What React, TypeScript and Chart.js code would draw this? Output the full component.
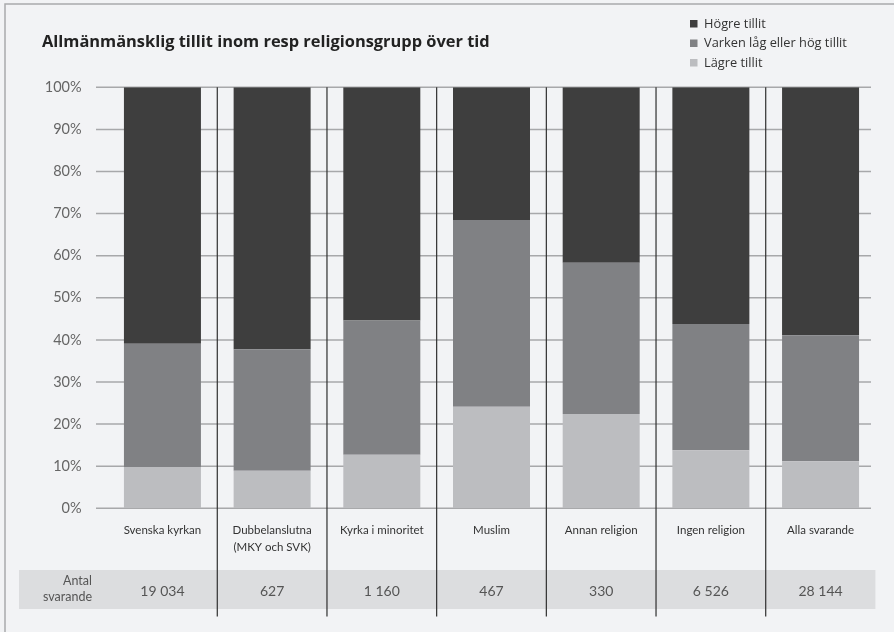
import React, { useEffect, useRef } from "react";
import { Chart, registerables } from "chart.js";

Chart.register(...registerables);

const categories: (string | string[])[] = [
  "Svenska kyrkan",
  ["Dubbelanslutna", "(MKY och SVK)"],
  "Kyrka i minoritet",
  "Muslim",
  "Annan religion",
  "Ingen religion",
  "Alla svarande",
];
const lagreTillit = [9.8, 8.9, 12.7, 24.1, 22.4, 13.8, 11.2];
const varkenTillit = [29.3, 28.9, 31.9, 44.4, 35.9, 30.0, 29.9];
const hogreTillit = [60.9, 62.2, 55.4, 31.5, 41.7, 56.2, 58.9];
const antalSvarande = ["19 034", "627", "1 160", "467", "330", "6 526", "28 144"];
const seriesLabels = ["Lägre tillit", "Varken låg eller hög tillit", "Högre tillit"];
const seriesColors = ["#bcbdc0", "#808184", "#3e3e3e"];
const titleText = "Allmänmänsklig tillit inom resp religionsgrupp över tid";
const tableHeader = ["Antal", "svarande"];

const FONT = "Lato, 'Open Sans', sans-serif";
const WIDE = "'Open Sans', Lato, sans-serif";

const customPlugin = {
  id: "customDecor",
  beforeDraw(chart: any) {
    const { ctx, width, height } = chart;
    const area = chart.chartArea;
    ctx.save();
    ctx.fillStyle = "#f2f3f5";
    ctx.fillRect(0, 0, width, height);
    // frame
    ctx.strokeStyle = "#a9aaac";
    ctx.lineWidth = 1.5;
    ctx.beginPath();
    ctx.moveTo(5, height);
    ctx.lineTo(5, 4);
    ctx.lineTo(width, 4);
    ctx.stroke();
    // title
    ctx.fillStyle = "#222";
    ctx.font = `bold 16.4px ${WIDE}`;
    ctx.textAlign = "left";
    ctx.textBaseline = "middle";
    ctx.fillText(titleText, 42, 42.5);
    // legend (reverse order)
    const ds = chart.data.datasets;
    const rows = [23.5, 43, 62.5];
    ctx.font = `12.8px ${WIDE}`;
    for (let k = 0; k < ds.length; k++) {
      const d = ds[ds.length - 1 - k];
      const y = rows[k];
      ctx.fillStyle = d.backgroundColor;
      ctx.fillRect(690, y - 3.5, 7.5, 7.5);
      ctx.fillStyle = "#333";
      ctx.fillText(d.label, 704, y + 0.5);
    }
    // table band
    ctx.fillStyle = "#dcdddf";
    ctx.fillRect(19, 570, area.right - 19, 39);
    ctx.restore();
  },
  beforeDatasetsDraw(chart: any) {
    const { ctx } = chart;
    const area = chart.chartArea;
    const yScale = chart.scales.y;
    const xScale = chart.scales.x;
    ctx.save();
    ctx.strokeStyle = "#a7a8aa";
    ctx.lineWidth = 1.5;
    yScale.ticks.forEach((t: any) => {
      const y = yScale.getPixelForValue(t.value);
      ctx.beginPath();
      ctx.moveTo(area.left - 11.6, y);
      ctx.lineTo(area.right - 4.4, y);
      ctx.stroke();
    });
    ctx.strokeStyle = "#2f2f2f";
    ctx.lineWidth = 1.2;
    for (let i = 1; i < categories.length; i++) {
      const x = (xScale.getPixelForValue(i - 1) + xScale.getPixelForValue(i)) / 2;
      ctx.beginPath();
      ctx.moveTo(x, area.top);
      ctx.lineTo(x, 616.5);
      ctx.stroke();
    }
    ctx.restore();
  },
  afterDraw(chart: any) {
    const { ctx } = chart;
    const xScale = chart.scales.x;
    ctx.save();
    ctx.fillStyle = "#555";
    ctx.textBaseline = "middle";
    ctx.textAlign = "right";
    ctx.font = `12.5px ${FONT}`;
    ctx.fillText(tableHeader[0], 92, 580.5);
    ctx.fillText(tableHeader[1], 92, 597);
    ctx.textAlign = "center";
    ctx.font = `14px ${FONT}`;
    antalSvarande.forEach((v, i) => {
      ctx.fillText(v, xScale.getPixelForValue(i), 591);
    });
    ctx.restore();
  },
};

export default function App() {
  const ref = useRef<HTMLCanvasElement | null>(null);
  useEffect(() => {
    if (!ref.current) return;
    const data = [lagreTillit, varkenTillit, hogreTillit];
    const chart = new Chart(ref.current, {
      type: "bar",
      data: {
        labels: categories,
        datasets: data.map((d, i) => ({
          label: seriesLabels[i],
          data: d,
          backgroundColor: seriesColors[i],
          borderWidth: 0,
          categoryPercentage: 1,
          barPercentage: 0.702,
        })),
      },
      options: {
        responsive: false,
        animation: false,
        devicePixelRatio: 1,
        layout: { padding: { left: 0, right: 18.6, top: 87.3, bottom: 63.7 } },
        plugins: {
          legend: { display: false },
          tooltip: { enabled: false },
          title: { display: false },
        },
        scales: {
          x: {
            stacked: true,
            grid: { display: false, drawTicks: false },
            border: { display: false },
            ticks: {
              color: "#333",
              font: { family: FONT, size: 11.5, lineHeight: 1.5 },
              padding: 13,
              maxRotation: 0,
              autoSkip: false,
            },
            afterFit: (s: any) => {
              s.height = 60;
            },
          },
          y: {
            stacked: true,
            min: 0,
            max: 100,
            grid: { display: false, drawTicks: false },
            border: { display: false },
            ticks: {
              stepSize: 10,
              color: "#666",
              font: { family: FONT, size: 14.5 },
              padding: 26,
              callback: (v: any) => `${v}%`,
            },
            afterFit: (s: any) => {
              s.width = 107.6;
            },
          },
        },
      },
      plugins: [customPlugin],
    });
    return () => chart.destroy();
  }, []);
  return (
    <div style={{ position: "fixed", left: 0, top: 0, width: 894, height: 632 }}>
      <canvas ref={ref} width={894} height={632} style={{ display: "block" }} />
    </div>
  );
}
